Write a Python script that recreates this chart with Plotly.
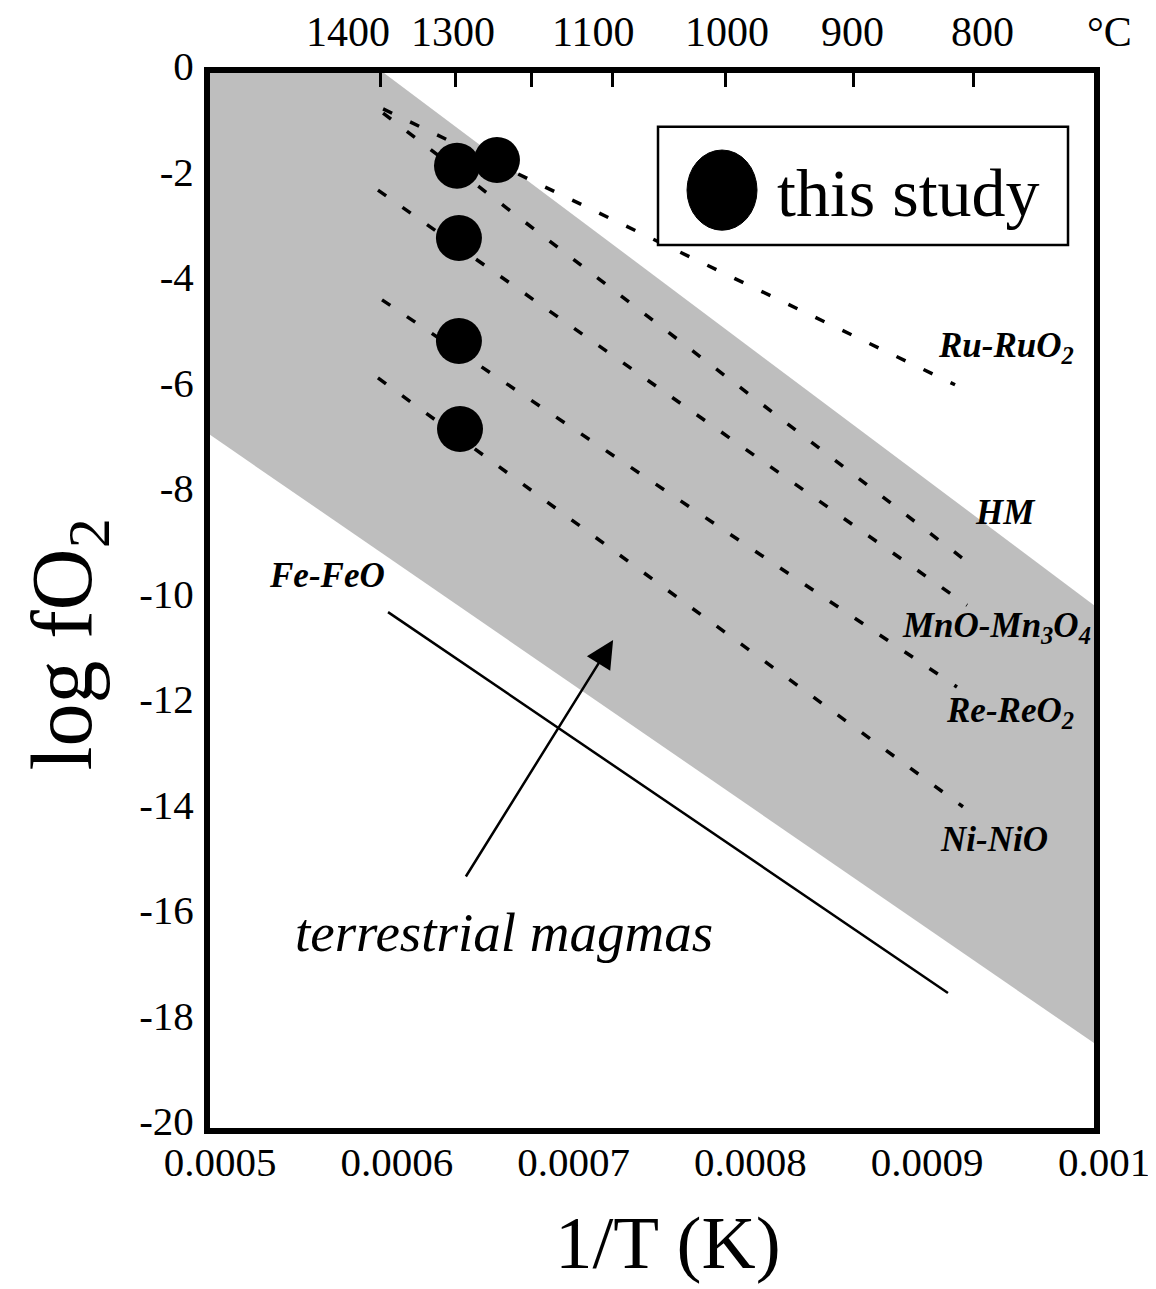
import plotly.graph_objects as go

# ---------------- data ----------------
# grey field "terrestrial magmas" (polygon vertices, 1/T and log fO2)
BAND_X = [0.0005, 0.0005984, 0.001, 0.001, 0.0005]
BAND_Y = [0.0, 0.0, -10.09, -18.39, -6.86]

# oxygen buffers drawn as dashed lines: start / end points
BUFFER_NAMES = ["Ru-RuO2", "HM", "MnO-Mn3O4", "Re-ReO2", "Ni-NiO"]
BUFFER_X0 = [0.0005979, 0.0005979, 0.0005950, 0.0005973, 0.0005950]
BUFFER_Y0 = [-0.68, -0.76, -2.22, -4.30, -5.78]
BUFFER_X1 = [0.0009214, 0.0009253, 0.0009282, 0.0009225, 0.0009259]
BUFFER_Y1 = [-5.91, -9.19, -10.09, -11.64, -13.91]

# Fe-FeO buffer (solid line)
FEFEO_X = [0.0006007, 0.0009174]
FEFEO_Y = [-10.22, -17.44]

# this study
STUDY_X = [0.0006397, 0.0006623, 0.0006408, 0.0006408, 0.0006414]
STUDY_Y = [-1.76, -1.65, -3.13, -5.08, -6.75]

# buffer labels
LABEL_TEXT = ["Ru-RuO<sub>2</sub>", "HM", "MnO-Mn<sub>3</sub>O<sub>4</sub>",
              "Re-ReO<sub>2</sub>", "Ni-NiO", "Fe-FeO"]
LABEL_X = [0.0009502, 0.0009497, 0.0009451, 0.0009525, 0.0009434, 0.0005662]
LABEL_Y = [-5.21, -8.34, -10.52, -12.13, -14.54, -9.52]

# axes
X_TICKS = [0.0005, 0.0006, 0.0007, 0.0008, 0.0009, 0.001]
X_TICK_TEXT = ["0.0005", "0.0006", "0.0007", "0.0008", "0.0009", "0.001"]
Y_TICKS = [0, -2, -4, -6, -8, -10, -12, -14, -16, -18, -20]
Y_TICK_TEXT = ["0", "-2", "-4", "-6", "-8", "-10", "-12", "-14", "-16", "-18", "-20"]
# top temperature axis (1/T positions of the tick marks)
TOP_TICKS = [0.0005967, 0.0006391, 0.0006816, 0.0007274, 0.0007913, 0.0008637, 0.0009316]
TOP_LABELS = ["1400", "1300", "1100", "1000", "900", "800"]
TOP_LABEL_TICK = [0, 1, 3, 4, 5, 6]
TOP_LABEL_SHIFT = [-33, -3, -19, 2, -1, 9]

# arrow "terrestrial magmas"
ARROW_TAIL = (0.0006442, -15.26)
ARROW_HEAD = (0.0007280, -10.75)
TERR_POS = (0.0006663, -16.30)

SERIF = "Liberation Serif, Times New Roman, serif"
GREY = "#bebebe"

fig = go.Figure()

fig.add_trace(go.Scatter(x=BAND_X, y=BAND_Y, fill="toself", fillcolor=GREY,
                         line=dict(width=0, color=GREY), mode="lines",
                         hoverinfo="skip", showlegend=False))

fig.add_trace(go.Scatter(x=FEFEO_X, y=FEFEO_Y, mode="lines",
                         line=dict(color="black", width=2.5), showlegend=False))

for i, name in enumerate(BUFFER_NAMES):
    fig.add_trace(go.Scatter(x=[BUFFER_X0[i], BUFFER_X1[i]], y=[BUFFER_Y0[i], BUFFER_Y1[i]],
                             mode="lines", name=name,
                             line=dict(color="black", width=3.5, dash="10px,20px"),
                             showlegend=False))

fig.add_trace(go.Scatter(x=STUDY_X, y=STUDY_Y, mode="markers", name="this study",
                         marker=dict(size=46, color="black"), showlegend=False))

# invisible trace to carry the top axis
fig.add_trace(go.Scatter(x=TOP_TICKS, y=[None] * len(TOP_TICKS), xaxis="x2",
                         mode="markers", marker=dict(opacity=0), showlegend=False,
                         hoverinfo="skip"))

annotations = []
for t, x, y in zip(LABEL_TEXT, LABEL_X, LABEL_Y):
    annotations.append(dict(x=x, y=y, xref="x", yref="y", text=t, showarrow=False,
                            xanchor="center", yanchor="middle",
                            font=dict(family=SERIF, size=35, color="black",
                                      style="italic", weight="bold")))

for lab, idx, sh in zip(TOP_LABELS, TOP_LABEL_TICK, TOP_LABEL_SHIFT):
    annotations.append(dict(x=TOP_TICKS[idx], y=1.039, xref="x", yref="paper", text=lab,
                            showarrow=False, xshift=sh, xanchor="center", yanchor="middle",
                            font=dict(family=SERIF, size=42, color="black")))
annotations.append(dict(x=1.017, y=1.039, xref="paper", yref="paper", text="°C",
                        showarrow=False, xanchor="center", yanchor="middle",
                        font=dict(family=SERIF, size=42, color="black")))

annotations.append(dict(x=ARROW_HEAD[0], y=ARROW_HEAD[1], ax=ARROW_TAIL[0], ay=ARROW_TAIL[1],
                        xref="x", yref="y", axref="x", ayref="y", text="", showarrow=True,
                        arrowhead=2, arrowsize=2.2, arrowwidth=2.5, arrowcolor="black"))
annotations.append(dict(x=TERR_POS[0], y=TERR_POS[1], xref="x", yref="y",
                        text="terrestrial magmas", showarrow=False,
                        xanchor="center", yanchor="middle",
                        font=dict(family=SERIF, size=55, color="black", style="italic")))

# legend (drawn by hand)
annotations.append(dict(x=0.0008196, y=-2.27, xref="x", yref="y", xanchor="left",
                        yanchor="middle", text="this study", showarrow=False,
                        font=dict(family=SERIF, size=68, color="black")))

# axis titles
annotations.append(dict(x=0.518, y=-0.109, xref="paper", yref="paper", text="1/T (K)",
                        showarrow=False, xanchor="center", yanchor="middle",
                        font=dict(family=SERIF, size=75, color="black")))
annotations.append(dict(x=-0.161, y=0.458, xref="paper", yref="paper",
                        text="log fO<sub>2</sub>", textangle=-90, showarrow=False,
                        xanchor="center", yanchor="middle",
                        font=dict(family=SERIF, size=86, color="black")))

shapes = [
    dict(type="rect", xref="x", yref="y", x0=0.0007534, x1=0.0009853, y0=-1.02, y1=-3.26,
         line=dict(color="black", width=2.5), fillcolor="white", layer="above"),
    dict(type="circle", xref="x", yref="y", x0=0.0007698, x1=0.0008094, y0=-1.46, y1=-2.98,
         line=dict(color="black", width=1), fillcolor="black", layer="above"),
]

# the page body adds an 8 px margin, compensated in the figure margins
fig.update_layout(
    width=1156, height=1289,
    margin=dict(l=202, r=70, t=65, b=169),
    paper_bgcolor="white", plot_bgcolor="white",
    showlegend=False,
    annotations=annotations, shapes=shapes,
    xaxis=dict(range=[0.0005, 0.001], tickvals=X_TICKS, ticktext=X_TICK_TEXT,
               showgrid=False, zeroline=False, ticks="", showline=True, linewidth=6,
               linecolor="black", mirror=True, ticklabelshift=10, ticklabelstandoff=-7,
               tickfont=dict(family=SERIF, size=41, color="black")),
    xaxis2=dict(range=[0.0005, 0.001], overlaying="x", side="top", matches="x",
                tickvals=TOP_TICKS, showticklabels=False, ticks="inside", ticklen=14,
                tickwidth=3, tickcolor="black", showgrid=False, zeroline=False,
                showline=False),
    yaxis=dict(range=[-20, 0], tickvals=Y_TICKS, ticktext=Y_TICK_TEXT, showgrid=False,
               zeroline=False, ticks="", showline=True, linewidth=6, linecolor="black",
               mirror=True, ticklabelshift=-7, ticklabelstandoff=2,
               tickfont=dict(family=SERIF, size=41, color="black")),
)

fig.write_html("out.html")
